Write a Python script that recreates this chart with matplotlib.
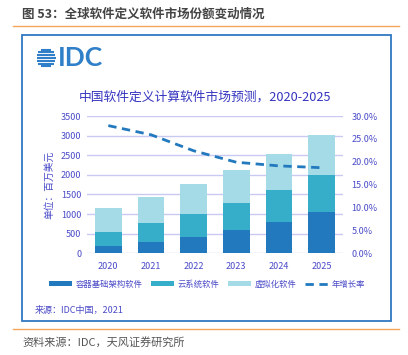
import numpy as np
import matplotlib
matplotlib.use("Agg")
import matplotlib.pyplot as plt
from matplotlib.patches import Rectangle

plt.rcParams['font.family'] = ['Noto Sans CJK SC', 'DejaVu Sans']

# data ============================================================================
years = ['2020', '2021', '2022', '2023', '2024', '2025']
container = [195, 297, 425, 587, 792, 1063]
cloud_sys = [341, 469, 579, 698, 825, 937]
virtual = [629, 680, 759, 843, 920, 1004]
growth = [27.9, 25.9, 22.4, 19.9, 19.1, 18.7]
series_names = ['容器基础架构软件', '云系统软件', '虚拟化软件', '年增长率']

c_dark = '#2379be'
c_mid = '#36adc9'
c_light = '#a4dbe6'
c_text = '#4a4ac8'
c_grid = '#c9c9f2'
W, H = 408, 355

fig = plt.figure(figsize=(W / 100, H / 100), dpi=100)

# decoration layer in pixel coordinates
deco = fig.add_axes([0, 0, 1, 1])
deco.set_xlim(0, W)
deco.set_ylim(H, 0)
deco.axis('off')
deco.text(22, 14, '图 53：全球软件定义软件市场份额变动情况', fontsize=9,
          color='#444444', fontweight='bold', va='center', ha='left')
deco.plot([13, 399], [26, 26], color='#f5a55a', lw=1)
deco.plot([13, 399], [329, 329], color='#f5a55a', lw=1)
deco.add_patch(Rectangle((22, 35), 369, 286, fill=False, ec='#2f78c0', lw=1.3))
deco.text(22, 342, '资料来源：IDC，天风证券研究所', fontsize=8, color='#555555',
          va='center', ha='left')
deco.text(35, 310, '来源：IDC中国，2021', fontsize=6.5, color=c_text,
          va='center', ha='left')

# IDC logo: striped circle + letters
cx, cy, r = 46, 58, 9.5
for yy in np.linspace(cy - r + 1.2, cy + r - 1.2, 7):
    half = np.sqrt(max(r ** 2 - (yy - cy) ** 2, 0))
    deco.plot([cx - half, cx + half], [yy, yy], color='#2f80c8', lw=1.5,
              solid_capstyle='butt')
deco.text(58, 58.5, 'IDC', fontsize=19, color='#2f80c8', fontweight='bold',
          family='Lato', va='center', ha='left')

deco.text(205, 97, '中国软件定义计算软件市场预测，2020-2025', fontsize=9.2,
          color='#3535c0', va='center', ha='center')

# main chart ======================================================================
ax = fig.add_axes([87 / W, 1 - 253.3 / H, (343 - 87) / W, (253.3 - 116) / H])
x = np.arange(len(years))
bw = 0.63
b1 = ax.bar(x, container, bw, color=c_dark, label=series_names[0], zorder=3)
b2 = ax.bar(x, cloud_sys, bw, bottom=container, color=c_mid,
            label=series_names[1], zorder=3)
bottom2 = np.array(container) + np.array(cloud_sys)
b3 = ax.bar(x, virtual, bw, bottom=bottom2, color=c_light,
            label=series_names[2], zorder=3)
ax.set_xlim(-0.5, 5.5)
ax.set_ylim(0, 3500)
ax.set_yticks(range(0, 3501, 500))
ax.set_xticks(x)
ax.set_xticklabels(years)
ax.grid(axis='y', color=c_grid, lw=1, zorder=0)
for s in ax.spines.values():
    s.set_visible(False)
ax.tick_params(length=0, labelsize=6.5, labelcolor=c_text, pad=4)
ax.tick_params(axis='x', pad=6)
ax.set_ylabel('单位：百万美元', fontsize=7, color=c_text, labelpad=5)

ax2 = ax.twinx()
l1, = ax2.plot(x, growth, color=c_dark, lw=2, ls=(0, (3, 2)),
               label=series_names[3], zorder=4)
ax2.set_ylim(0, 30)
ax2.set_yticks(range(0, 31, 5))
ax2.set_yticklabels([f'{v:.1f}%' for v in range(0, 31, 5)])
for s in ax2.spines.values():
    s.set_visible(False)
ax2.tick_params(length=0, labelsize=6.5, labelcolor=c_text, pad=6)

leg = fig.legend([b1, b2, b3, l1], series_names, loc='center',
                 bbox_to_anchor=(207 / W, 1 - 284 / H), ncol=4, frameon=False,
                 fontsize=6, handlelength=2.8, handleheight=0.4,
                 columnspacing=1.0, handletextpad=0.4)
for t in leg.get_texts():
    t.set_color(c_text)

fig.savefig('out.png', dpi=100)
